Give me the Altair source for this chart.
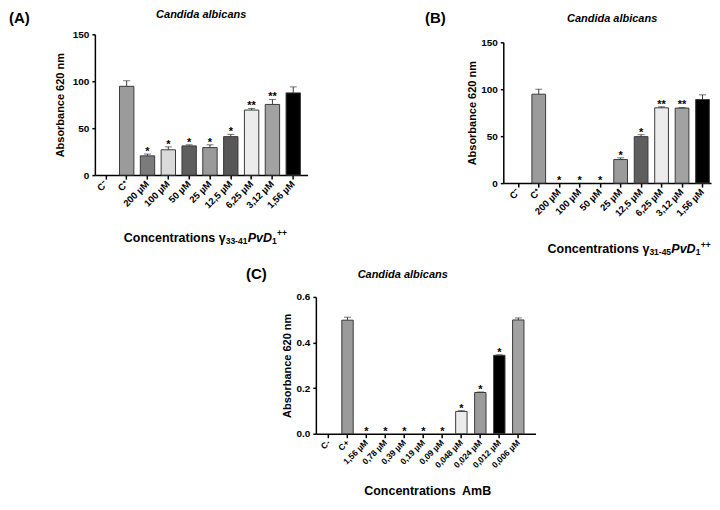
import altair as alt
import pandas as pd

FONT = "Liberation Sans"
EDGE = "#3a3a3a"

# ---------------- data ----------------
a_labels = ["C⁻", "C⁺", "200 µM", "100 µM", "50 µM", "25 µM", "12,5 µM", "6,25 µM", "3,12 µM", "1,56 µM"]
a_values = [0, 94.6, 20.5, 27.0, 31.1, 29.3, 41.0, 69.3, 75.3, 87.6]
a_errors = [0, 5.8, 1.9, 3.1, 1.2, 3.0, 2.4, 1.7, 5.3, 6.4]
a_colors = ["#ffffff", "#9b9b9b", "#7b7b7b", "#dadada", "#5e5e5e", "#9a9a9a", "#575757", "#ececec", "#a2a2a2", "#000000"]
a_stars = ["", "", "*", "*", "*", "*", "*", "**", "**", ""]

b_labels = ["C⁻", "C⁺", "200 µM", "100 µM", "50 µM", "25 µM", "12,5 µM", "6,25 µM", "3,12 µM", "1,56 µM"]
b_values = [0, 94.7, 0, 0, 0, 25.1, 49.5, 80.2, 79.9, 89.0]
b_errors = [0, 5.3, 0, 0, 0, 1.8, 2.1, 1.1, 0.7, 5.0]
b_colors = ["#ffffff", "#9b9b9b", "#ffffff", "#ffffff", "#ffffff", "#9b9b9b", "#5e5e5e", "#ececec", "#a2a2a2", "#000000"]
b_stars = ["", "", "*", "*", "*", "*", "*", "**", "**", ""]

c_labels = ["C-", "C+", "1,56 µM", "0,78 µM", "0,39 µM", "0,19 µM", "0,09 µM",
            "0,048 µM", "0,024 µM", "0,012 µM", "0,006 µM"]
c_values = [0, 0.498, 0, 0, 0, 0, 0, 0.098, 0.181, 0.344, 0.499]
c_errors = [0, 0.013, 0, 0, 0, 0, 0, 0.003, 0.002, 0.002, 0.009]
c_colors = ["#ffffff", "#9b9b9b", "#ffffff", "#ffffff", "#ffffff", "#ffffff", "#ffffff",
            "#ececec", "#9b9b9b", "#000000", "#a2a2a2"]
c_stars = ["", "", "*", "*", "*", "*", "*", "*", "*", "*", ""]

a_ticks = [0, 50, 100, 150]
c_ticks = [0, 0.2, 0.4, 0.6]


def band_params(span, n, step, pin, first_center):
    total = span / step
    pout = (total - (n - pin)) / 2
    left = span - step * (n - pin)
    bw = step * (1 - pin)
    align = (first_center - bw / 2) / left
    return pout, align


def text_layer(txt, x, y, size, weight="bold", style="normal", align="left", opacity=1):
    return alt.Chart(pd.DataFrame({"t": [txt]})).mark_text(
        font=FONT, fontSize=size, fontWeight=weight, fontStyle=style,
        align=align, baseline="middle", color="black", opacity=opacity
    ).encode(x=alt.value(x), y=alt.value(y), text="t:N")


def panel(labels, values, errors, colors, stars, w, h, yrange, step, pin, first_center,
          ymax, yticks, yfmt, label_size, title_pad, extras):
    pout, align = band_params(w, len(labels), step, pin, first_center)
    df = pd.DataFrame({"cat": labels, "val": values, "err": errors, "col": colors, "sig": stars})
    df["top"] = df["val"] + df["err"]

    xax = alt.Axis(title=None, labelAngle=-45, labelAlign="right", labelBaseline="middle",
                   labelFont=FONT, labelFontSize=label_size, labelFontWeight="bold",
                   labelColor="black", labelPadding=3, tickSize=4, tickWidth=1.5,
                   tickColor="black", domainColor="black", domainWidth=1.5, grid=False)
    yax = alt.Axis(values=yticks, format=yfmt, title="Absorbance 620 nm", titleFont=FONT,
                   titleFontSize=11, titleFontWeight="bold", titleColor="black",
                   titlePadding=title_pad, labelFont=FONT, labelFontSize=10,
                   labelFontWeight="bold", labelColor="black", labelPadding=3,
                   tickSize=3, tickWidth=1.5, tickColor="black", domainColor="black",
                   domainWidth=1.5, grid=False)
    xs = alt.Scale(domain=labels, paddingInner=pin, paddingOuter=pout, align=align)
    ys = alt.Scale(domain=[0, ymax], nice=False, range=yrange)
    X = alt.X("cat:N", scale=xs, axis=xax)

    base = alt.Chart(df)
    bars = base.transform_filter("datum.val > 0").mark_bar(stroke=EDGE, strokeWidth=1).encode(
        x=X, y=alt.Y("val:Q", scale=ys, axis=yax), fill=alt.Fill("col:N", scale=None))
    rules = base.transform_filter("datum.err > 0").mark_rule(color=EDGE, strokeWidth=1).encode(
        x=X, y=alt.Y("val:Q", scale=ys, axis=yax), y2="top:Q")
    caps = base.transform_filter("datum.err > 0").mark_tick(color=EDGE, thickness=1, size=7).encode(
        x=X, y=alt.Y("top:Q", scale=ys, axis=yax))
    marks = base.transform_filter("datum.sig != ''").mark_text(
        font=FONT, fontSize=11, fontWeight="bold", baseline="alphabetic", dy=1, color="black"
    ).encode(x=X, y=alt.Y("top:Q", scale=ys, axis=yax), text="sig:N")

    return alt.layer(bars, rules, caps, marks, *extras).properties(width=w, height=h)


# Panel A
hA = 141
extrasA = [
    text_layer("(A)", -86, -16.5, 15),
    text_layer("Candida albicans", 106.5, -19, 11, style="italic", align="center"),
    text_layer("Concentrations γ", 131, hA + 63, 12.5, align="right"),
    text_layer("33-41", 131, hA + 66, 8.5),
    text_layer("PvD", 153, hA + 63, 12.5, style="italic"),
    text_layer("1", 177.5, hA + 66, 8.5),
    text_layer("++", 182.5, hA + 58, 8.5),
]
A = panel(a_labels, a_values, a_errors, a_colors, a_stars, 213, hA, [hA, 0], 20.85, 0.31, 11,
          150, a_ticks, "d", 9.5, 7, extrasA)

# Panel B (plot shifted 8 px lower than A inside a taller view)
hB = 149
extrasB = [
    text_layer("(B)", -78.4, -16.5, 15),
    text_layer("Candida albicans", 109, -15, 11, style="italic", align="center"),
    text_layer("Concentrations γ", 146.3, hB + 66.5, 12.5, align="right"),
    text_layer("31-45", 146.3, hB + 69.5, 8.5),
    text_layer("PvD", 168.3, hB + 66.5, 12.5, style="italic"),
    text_layer("1", 192.8, hB + 69.5, 8.5),
    text_layer("++", 197.8, hB + 61.5, 8.5),
]
B = panel(b_labels, b_values, b_errors, b_colors, b_stars, 208, hB, [hB, 8], 20.5, 0.33, 15,
          150, a_ticks, "d", 9.5, 3, extrasB)

# Panel C
hC = 137
extrasC = [
    text_layer("(C)", -70, -23.3, 15),
    text_layer("Candida albicans", 87, -22, 11, style="italic", align="center"),
    text_layer("Concentrations\u00a0 AmB", 112, hC + 57, 12.5, align="center"),
]
C = panel(c_labels, c_values, c_errors, c_colors, c_stars, 220, hC, [hC, 0], 19.0, 0.4, 12.7,
          0.6, c_ticks, ".1f", 8.5, 3, extrasC)

spacer = alt.Chart(pd.DataFrame({"t": [" "]})).mark_text(align="left", opacity=0).encode(
    x=alt.value(0), y=alt.value(0), text="t:N").properties(width=10, height=10)

chart = alt.vconcat(
    alt.hconcat(A, B, spacing=116),
    alt.hconcat(spacer, C, spacing=139.3),
    spacing=8,
).properties(padding=0).configure_view(stroke="transparent")

chart.save("out.html", embed_options={"renderer": "svg", "actions": False})
